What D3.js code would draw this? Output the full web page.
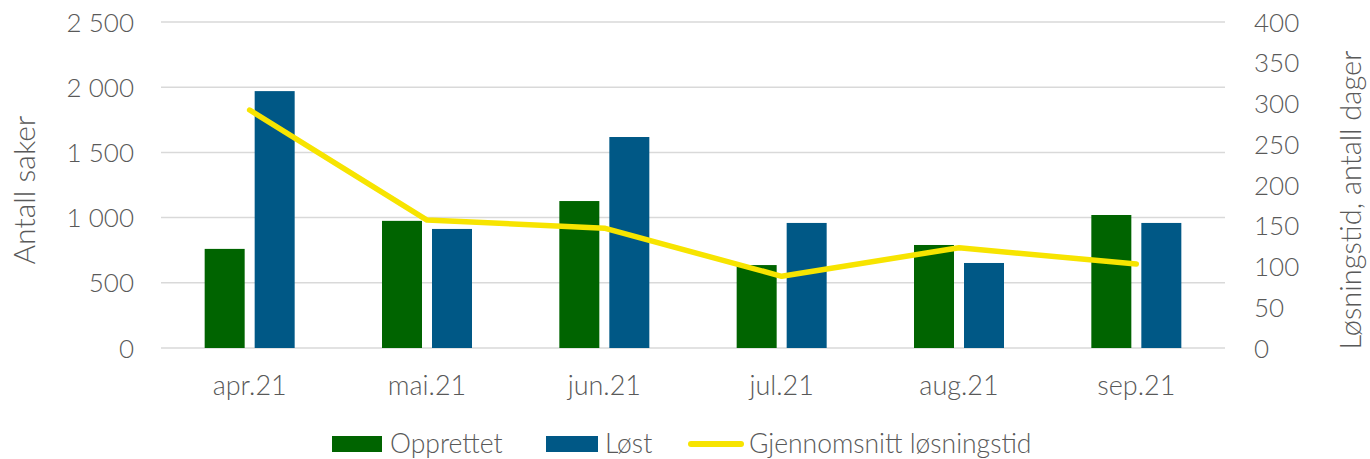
<!DOCTYPE html>
<html><head><meta charset="utf-8">
<script src="https://cdn.jsdelivr.net/npm/d3@7"></script>
<style>html,body{margin:0;padding:0;background:#fff;}svg text{font-family:Lato,sans-serif;font-weight:300;fill:#595959;}</style>
</head><body><svg id="c" width="1370" height="459"></svg>
<script>
const months = ["apr.21","mai.21","jun.21","jul.21","aug.21","sep.21"];
const opprettet = [760, 975, 1127, 636, 790, 1020];
const lost = [1970, 913, 1618, 959, 652, 959];
const losningstid = [292, 157, 147, 88, 123, 103];
const leftTicks = [0,500,1000,1500,2000,2500];
const rightTicks = [0,50,100,150,200,250,300,350,400];
const seriesNames = ["Opprettet","Løst","Gjennomsnitt løsningstid"];
const colors = {opprettet:"#006400", lost:"#005886", line:"#F7E400", grid:"#D9D9D9"};

const svg = d3.select("#c");
const L=161, R=1225, T=22, B=348;
const x = d3.scaleBand().domain(months).range([L,R]).padding(0);
const yL = d3.scaleLinear().domain([0,2500]).range([B,T]);
const yR = d3.scaleLinear().domain([0,400]).range([B,T]);
const fmt = d3.formatLocale({decimal:",",thousands:"\u00a0",grouping:[3],currency:["",""]}).format(",d");

function styleText(g, fs){
  g.selectAll("text").style("font-size",fs).attr("fill","#595959")
   .style("font-family","Lato,sans-serif").style("font-weight","300").attr("dy","0.35em");
}

// gridlines
svg.append("g").selectAll("line").data(leftTicks).join("line")
  .attr("x1",L).attr("x2",R).attr("y1",d=>yL(d)).attr("y2",d=>yL(d))
  .attr("stroke",colors.grid).attr("stroke-width",1.5);

// left axis
const gl = svg.append("g").attr("transform",`translate(${L},0)`)
  .call(d3.axisLeft(yL).tickValues(leftTicks).tickFormat(fmt).tickSize(0).tickPadding(27));
gl.select(".domain").remove();
styleText(gl,"26px");

// right axis
const gr = svg.append("g").attr("transform",`translate(${R},0)`)
  .call(d3.axisRight(yR).tickValues(rightTicks).tickSize(0).tickPadding(29));
gr.select(".domain").remove();
styleText(gr,"26px");

// x axis labels
const gx = svg.append("g").attr("transform",`translate(0,${B})`)
  .call(d3.axisBottom(x).tickSize(0).tickPadding(38));
gx.select(".domain").remove();
styleText(gx,"27px");

// bars
const bw=40, gap=10;
const cx = m => x(m)+x.bandwidth()/2;
svg.append("g").selectAll("rect").data(months).join("rect")
  .attr("x",d=>cx(d)-gap/2-bw).attr("width",bw)
  .attr("y",(d,i)=>yL(opprettet[i])).attr("height",(d,i)=>yL(0)-yL(opprettet[i]))
  .attr("fill",colors.opprettet);
svg.append("g").selectAll("rect").data(months).join("rect")
  .attr("x",d=>cx(d)+gap/2).attr("width",bw)
  .attr("y",(d,i)=>yL(lost[i])).attr("height",(d,i)=>yL(0)-yL(lost[i]))
  .attr("fill",colors.lost);

// line
const line = d3.line().x((d,i)=>cx(months[i])).y(d=>yR(d));
svg.append("path").datum(losningstid).attr("d",line)
  .attr("fill","none").attr("stroke",colors.line).attr("stroke-width",5.5)
  .attr("stroke-linecap","round").attr("stroke-linejoin","round");

// axis titles
svg.append("text").attr("transform","translate(35,190) rotate(-90)")
  .attr("text-anchor","middle").style("font-size","30px").text("Antall saker");
svg.append("text").attr("transform","translate(1361,200) rotate(-90)")
  .attr("text-anchor","middle").style("font-size","29px").text("Løsningstid, antall dager");

// legend
const lg = svg.append("g");
const ly = 444, lfs = "26.5px";
lg.append("rect").attr("x",332).attr("y",ly-8).attr("width",50).attr("height",16).attr("fill",colors.opprettet);
lg.append("text").attr("x",390).attr("y",ly).attr("dy","0.33em").style("font-size",lfs).text(seriesNames[0]);
lg.append("rect").attr("x",546).attr("y",ly-8).attr("width",52).attr("height",16).attr("fill",colors.lost);
lg.append("text").attr("x",605).attr("y",ly).attr("dy","0.33em").style("font-size",lfs).text(seriesNames[1]);
lg.append("line").attr("x1",691).attr("x2",741).attr("y1",ly).attr("y2",ly).attr("stroke",colors.line).attr("stroke-width",6).attr("stroke-linecap","round");
lg.append("text").attr("x",749).attr("y",ly).attr("dy","0.33em").style("font-size",lfs).text(seriesNames[2]);
</script></body></html>
